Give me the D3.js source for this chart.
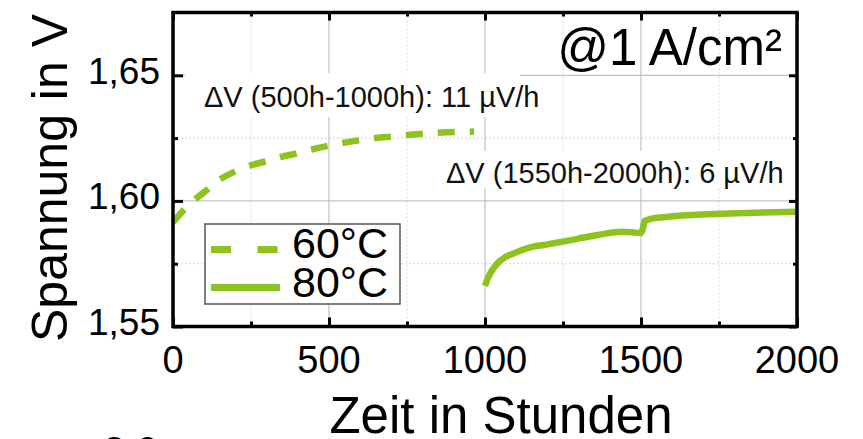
<!DOCTYPE html>
<html>
<head>
<meta charset="utf-8">
<script src="https://cdn.jsdelivr.net/npm/d3@7"></script>
<style>
  body { margin: 0; background: #fff; }
  svg { display: block; font-family: "Liberation Sans", Arial, sans-serif; }
</style>
</head>
<body>
<div id="chart"></div>
<script>
// 60°C run, hours / volts
var hours60 = [0, 30, 60, 100, 150, 200, 250, 300, 350, 400, 450, 500, 550, 600, 650, 700, 750, 800, 850, 900, 965];
var volts60 = [1.5915, 1.5958, 1.5995, 1.6035, 1.6085, 1.6118, 1.6142, 1.6158, 1.6176, 1.6190, 1.6206, 1.6220,
               1.6232, 1.6242, 1.6250, 1.6256, 1.6262, 1.6267, 1.6271, 1.6274, 1.6276];

// 80°C run
var hours80 = [1000, 1010, 1025, 1040, 1060, 1090, 1145, 1200, 1250, 1300, 1360, 1440, 1470, 1498,
               1505, 1512, 1530, 1570, 1680, 1785, 1890, 2000];
var volts80 = [1.5662, 1.5695, 1.5728, 1.5752, 1.5772, 1.5790, 1.5815, 1.5827, 1.5838, 1.5850, 1.5864, 1.5877,
               1.5875, 1.5872, 1.5885, 1.5920, 1.5928, 1.5935, 1.5945, 1.5950, 1.5954, 1.5957];

var xTicks = [0, 500, 1000, 1500, 2000];
var xMinor = [250, 750, 1250, 1750];
var yTicks = [1.55, 1.60, 1.65];
var yMinor = [1.575, 1.625];
var seriesNames = ["60°C", "80°C"];
var notes = ["ΔV (500h-1000h): 11 µV/h", "ΔV (1550h-2000h): 6 µV/h"];

var green = "#8dc21f";
var width = 863, height = 439;
// note: "top" is taken by window.top, so plot edges get their own names
var pL = 173, pR = 797, pT = 12.5, pB = 326.5;

var svg = d3.select("#chart").append("svg")
  .attr("width", width)
  .attr("height", height);

var x = d3.scaleLinear().domain([0, 2000]).range([pL, pR]);
var y = d3.scaleLinear().domain([1.55, 1.675]).range([pB, pT]);

// grid
var grid = svg.append("g");
grid.selectAll(".gxm").data(xMinor).enter().append("line")
  .attr("x1", d => x(d)).attr("x2", d => x(d))
  .attr("y1", pT).attr("y2", pB)
  .attr("stroke", "#d6d6d6").attr("stroke-dasharray", "2,2");
grid.selectAll(".gym").data(yMinor).enter().append("line")
  .attr("x1", pL).attr("x2", pR)
  .attr("y1", d => y(d)).attr("y2", d => y(d))
  .attr("stroke", "#d6d6d6").attr("stroke-dasharray", "2,2");
grid.selectAll(".gx").data(xTicks.slice(1, -1)).enter().append("line")
  .attr("x1", d => x(d)).attr("x2", d => x(d))
  .attr("y1", pT).attr("y2", pB)
  .attr("stroke", "#b5b5b5");
grid.selectAll(".gy").data(yTicks.slice(1)).enter().append("line")
  .attr("x1", pL).attr("x2", pR)
  .attr("y1", d => y(d)).attr("y2", d => y(d))
  .attr("stroke", "#b5b5b5");

// white boxes behind the annotations
svg.append("rect").attr("x", 185).attr("y", 73).attr("width", 335).attr("height", 44).attr("fill", "#fff");
svg.append("rect").attr("x", 440).attr("y", 151).attr("width", 355).attr("height", 37).attr("fill", "#fff");

// data
var line = d3.line().curve(d3.curveMonotoneX);
var pts60 = hours60.map((h, i) => [x(h), y(volts60[i])]);
var pts80 = hours80.map((h, i) => [x(h), y(volts80[i])]);

svg.append("path")
  .attr("d", line(pts60))
  .attr("fill", "none")
  .attr("stroke", green)
  .attr("stroke-width", 6.5)
  .attr("stroke-dasharray", "17,15");

svg.append("path")
  .attr("d", line(pts80))
  .attr("fill", "none")
  .attr("stroke", green)
  .attr("stroke-width", 6.5);

// axes (box with inward ticks)
function tickSet(g, axis, len) {
  g.call(axis.tickSize(len).tickFormat(""));
  g.select(".domain").remove();
  g.selectAll(".tick line").attr("stroke", "#000").attr("stroke-width", 3);
}
tickSet(svg.append("g").attr("transform", "translate(0," + pB + ")"), d3.axisTop(x).tickValues(xTicks), 9);
tickSet(svg.append("g").attr("transform", "translate(0," + pB + ")"), d3.axisTop(x).tickValues(xMinor), 5);
tickSet(svg.append("g").attr("transform", "translate(0," + pT + ")"), d3.axisBottom(x).tickValues(xTicks), 8);
tickSet(svg.append("g").attr("transform", "translate(0," + pT + ")"), d3.axisBottom(x).tickValues(xMinor), 4);
tickSet(svg.append("g").attr("transform", "translate(" + pL + ",0)"), d3.axisRight(y).tickValues(yTicks), 10);
tickSet(svg.append("g").attr("transform", "translate(" + pL + ",0)"), d3.axisRight(y).tickValues(yMinor), 5);
tickSet(svg.append("g").attr("transform", "translate(" + pR + ",0)"), d3.axisLeft(y).tickValues(yTicks), 8);
tickSet(svg.append("g").attr("transform", "translate(" + pR + ",0)"), d3.axisLeft(y).tickValues(yMinor), 4);

svg.append("rect")
  .attr("x", pL).attr("y", pT)
  .attr("width", pR - pL).attr("height", pB - pT)
  .attr("fill", "none").attr("stroke", "#000").attr("stroke-width", 3.5);

// tick labels
svg.selectAll(".xl").data(xTicks).enter().append("text")
  .attr("x", d => x(d)).attr("y", 373)
  .attr("text-anchor", "middle")
  .attr("font-size", 38)
  .text(d => d);

svg.selectAll(".yl").data(yTicks).enter().append("text")
  .attr("x", 160).attr("y", d => y(d) + 8.5)
  .attr("text-anchor", "end")
  .attr("font-size", 37)
  .text(d => d3.format(".2f")(d).replace(".", ","));

// axis titles
svg.append("text")
  .attr("transform", "translate(67,178) rotate(-90)")
  .attr("text-anchor", "middle")
  .attr("font-size", 50)
  .text("Spannung in V");

svg.append("text")
  .attr("x", 501).attr("y", 433)
  .attr("text-anchor", "middle")
  .attr("font-size", 51)
  .text("Zeit in Stunden");

// labels inside
svg.append("text")
  .attr("x", 782).attr("y", 65)
  .attr("text-anchor", "end")
  .attr("font-size", 51)
  .text("@1 A/cm²");

svg.append("text").attr("x", 204).attr("y", 107).attr("font-size", 29).attr("fill", "#111").text(notes[0]);
svg.append("text").attr("x", 446).attr("y", 183).attr("font-size", 29).attr("fill", "#111").text(notes[1]);

// legend
var lg = svg.append("g");
lg.append("rect")
  .attr("x", 205).attr("y", 224).attr("width", 195).attr("height", 80)
  .attr("fill", "#fff").attr("stroke", "#555").attr("stroke-width", 1.5);
lg.append("line")
  .attr("x1", 211).attr("x2", 278).attr("y1", 249.5).attr("y2", 249.5)
  .attr("stroke", green).attr("stroke-width", 7).attr("stroke-dasharray", "20,26.5");
lg.append("line")
  .attr("x1", 211).attr("x2", 280).attr("y1", 287.5).attr("y2", 287.5)
  .attr("stroke", green).attr("stroke-width", 7);
lg.selectAll(".lt").data(seriesNames).enter().append("text")
  .attr("x", 292).attr("y", (d, i) => 258 + i * 39)
  .attr("font-size", 43)
  .text(d => d);

// edge of the next panel, cut off at the bottom
svg.append("text").attr("x", 103).attr("y", 465).attr("font-size", 40).text("2,0");
</script>
</body>
</html>
